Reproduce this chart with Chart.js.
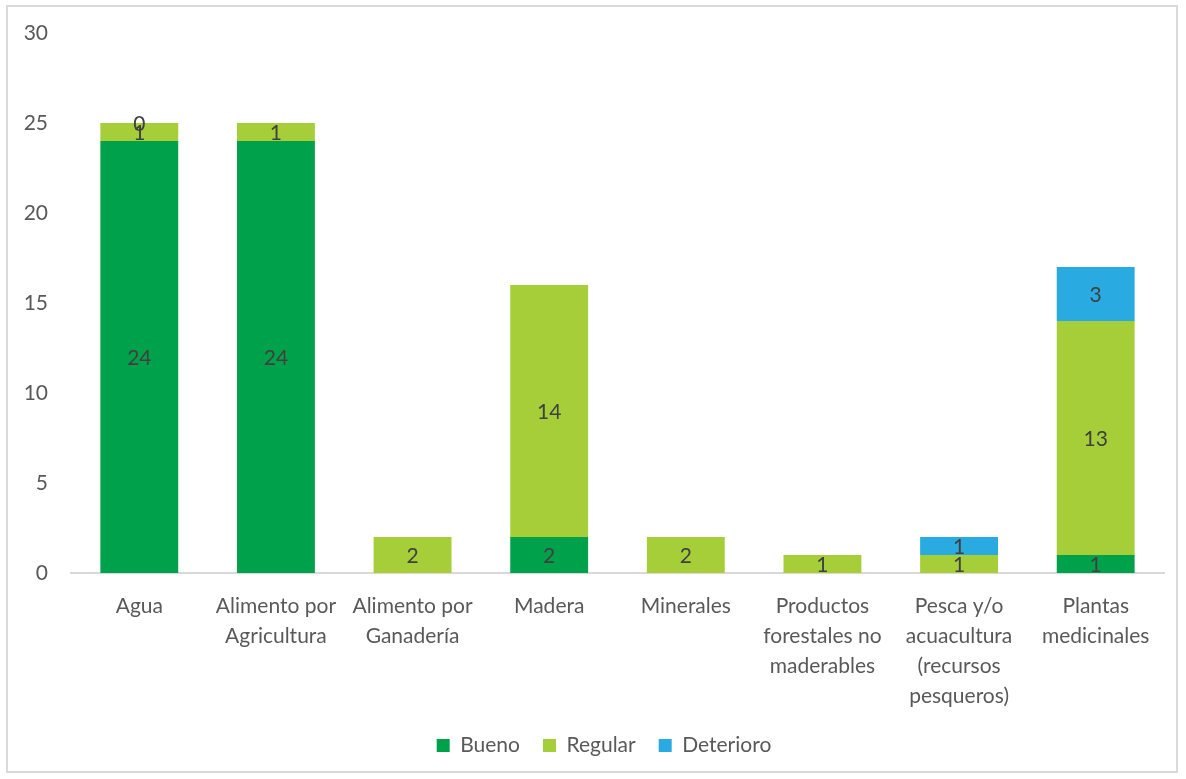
<!DOCTYPE html>
<html>
<head>
<meta charset="utf-8">
<script src="https://cdn.jsdelivr.net/npm/chart.js@4.4.1/dist/chart.umd.min.js"></script>
<style>
  html, body { margin: 0; padding: 0; background: #fff; }
  #wrap { position: relative; width: 1186px; height: 779px; }
  #frame { position: absolute; left: 6px; top: 5px; width: 1172px; height: 768px; border: 2px solid #d9d9d9; box-sizing: border-box; pointer-events: none; }
</style>
</head>
<body>
<div id="wrap">
  <canvas id="chart" width="1186" height="779"></canvas>
  <div id="frame"></div>
</div>
<script>
// categories (multi-line labels, as wrapped in the original)
const categories = [
  ["Agua"],
  ["Alimento por", "Agricultura"],
  ["Alimento por", "Ganadería"],
  ["Madera"],
  ["Minerales"],
  ["Productos", "forestales no", "maderables"],
  ["Pesca y/o", "acuacultura", "(recursos", "pesqueros)"],
  ["Plantas", "medicinales"],
];

const bueno     = [24, 24, null, 2, null, null, null, 1];
const regular   = [1, 1, 2, 14, 2, 1, 1, 13];
const deterioro = [0, null, null, null, null, null, 1, 3];

const yTicks = [0, 5, 10, 15, 20, 25, 30];

const FONT = "Lato, 'Open Sans', sans-serif";
const FS = 21;

// draws the value in the middle of every bar segment
const valueLabels = {
  id: "valueLabels",
  afterDatasetsDraw(chart) {
    const { ctx } = chart;
    ctx.save();
    ctx.font = FS + "px " + FONT;
    ctx.fillStyle = "#404040";
    ctx.textAlign = "center";
    ctx.textBaseline = "middle";
    chart.data.datasets.forEach((ds, i) => {
      const meta = chart.getDatasetMeta(i);
      meta.data.forEach((bar, j) => {
        const v = ds.data[j];
        if (v === null || v === undefined) return;
        ctx.fillText(String(v), bar.x, (bar.y + bar.base) / 2 + 1);
      });
    });
    ctx.restore();
  },
};

// the original legend sits a bit right of the canvas centre
const legendShift = {
  id: "legendShift",
  afterLayout(chart) {
    if (!chart.legend) return;
    chart.legend.left += 22;
    chart.legend.right += 22;
  },
};

new Chart(document.getElementById("chart"), {
  type: "bar",
  data: {
    labels: categories,
    datasets: [
      { label: "Bueno", data: bueno, backgroundColor: "#00a14b" },
      { label: "Regular", data: regular, backgroundColor: "#a6ce39" },
      { label: "Deterioro", data: deterioro, backgroundColor: "#29abe2" },
    ],
  },
  options: {
    responsive: false,
    animation: false,
    datasets: { bar: { categoryPercentage: 1, barPercentage: 0.57 } },
    layout: { padding: { left: 0, right: 22, top: 33, bottom: 13 } },
    plugins: {
      legend: {
        position: "bottom",
        labels: {
          boxWidth: 13, boxHeight: 13, padding: 23,
          color: "#595959",
          font: { size: FS, family: FONT },
        },
      },
      tooltip: { enabled: false },
    },
    scales: {
      x: {
        stacked: true,
        grid: { display: false },
        border: { color: "#d9d9d9", width: 2 },
        ticks: {
          color: "#595959",
          font: { size: FS, family: FONT, lineHeight: 1.43 },
          padding: 10,
          maxRotation: 0,
          autoSkip: false,
        },
        afterFit(scale) { scale.height = 139; },
      },
      y: {
        stacked: true,
        min: 0,
        max: 30,
        afterBuildTicks(scale) { scale.ticks = yTicks.map(v => ({ value: v })); },
        grid: { display: false },
        border: { display: false },
        ticks: {
          color: "#595959",
          font: { size: FS, family: FONT },
          padding: 15,
        },
        afterFit(scale) { scale.width = 71; },
      },
    },
  },
  plugins: [valueLabels, legendShift],
});
</script>
</body>
</html>
